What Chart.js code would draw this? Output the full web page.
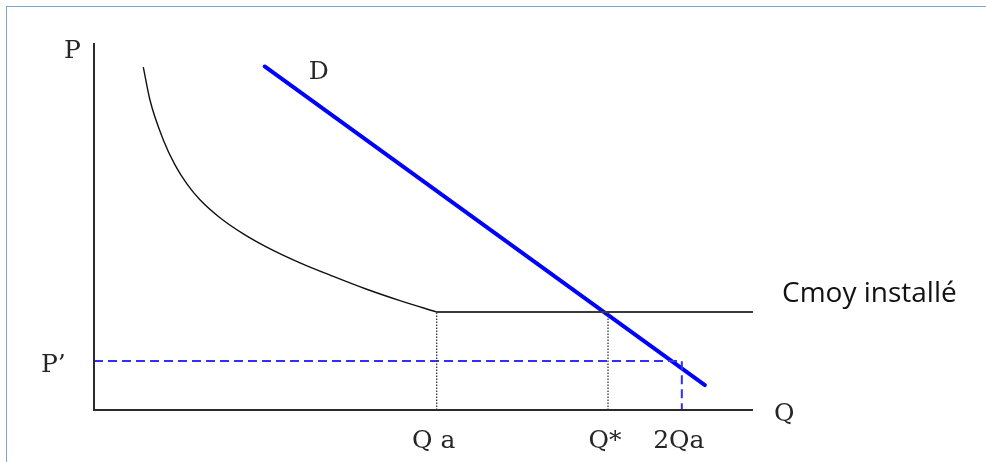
<!DOCTYPE html>
<html><head><meta charset="utf-8">
<script src="https://cdn.jsdelivr.net/npm/chart.js@4"></script>
<style>
html,body{margin:0;padding:0;background:#fff;}
#wrap{position:relative;width:986px;height:462px;overflow:hidden;background:#fff;}
#frame{position:absolute;left:6px;top:6px;width:1000px;height:480px;border:1.5px solid #7aa3d6;box-sizing:border-box;}
canvas{position:absolute;left:0;top:0;}
</style></head><body>
<div id="wrap"><div id="frame"></div><canvas id="c" width="986" height="462"></canvas></div>
<script>
// Quantity ticks on the horizontal axis
const quantityTicks = [52, 78, 89.2];
const quantityLabels = ['Q a', 'Q*', '2Qa'];
// Average cost curve (decreasing part up to Qa)
const costQ = [7.48, 8.50, 10.52, 12.29, 14.07, 16.08, 19.12, 22.66, 26.21, 31.26, 36.31, 41.38, 46.43, 52.0];
const costP = [93.4, 84.4, 73.6, 66.8, 61.7, 57.3, 52.4, 48.0, 44.4, 40.1, 36.4, 32.9, 29.8, 26.7];
// Flat installed average cost beyond Qa
const flatQ = [52.0, 100];
const flatP = [26.7, 26.7];
// Demand line
const demandQ = [25.9, 92.7];
const demandP = [93.6, 6.8];
// Prices
const priceCmoy = 26.7;
const priceLow = 13.35;
const axisMaxQ = 100, axisMaxP = 100;

const zip = (xs, ys) => xs.map((x, i) => ({x, y: ys[i]}));

const base = {pointRadius: 0, pointHoverRadius: 0, fill: false, clip: false, tension: 0};

const labelsPlugin = {
  id: 'econLabels',
  afterDatasetsDraw(chart) {
    const {ctx, scales: {x, y}} = chart;
    const X = v => x.getPixelForValue(v), Y = v => y.getPixelForValue(v);
    ctx.save();
    ctx.fillStyle = '#262626';
    ctx.textBaseline = 'alphabetic';
    ctx.font = '25px "DejaVu Serif"';
    ctx.textAlign = 'left';
    ctx.fillText('P', X(0) - 30, Y(axisMaxP) + 15);
    ctx.fillText('P\u2019', X(0) - 53, Y(priceLow) + 11);
    ctx.fillText('Q', X(axisMaxQ) + 21, Y(0) + 11);
    ctx.fillText('D', X(demandQ[0]) + 44, Y(demandP[0]) + 13);
    ctx.textAlign = 'center';
    quantityTicks.forEach((q, i) => ctx.fillText(quantityLabels[i], X(q) - 3, Y(0) + 38));
    ctx.textAlign = 'left';
    ctx.fillStyle = '#111';
    ctx.font = '28px "Open Sans"';
    ctx.fillText('Cmoy installé', X(axisMaxQ) + 29, Y(priceCmoy) - 10);
    ctx.restore();
  }
};

new Chart(document.getElementById('c'), {
  type: 'line',
  data: {
    datasets: [
      {...base, label: 'axes', data: [{x: 0, y: axisMaxP}, {x: 0, y: 0}, {x: axisMaxQ, y: 0}], borderColor: '#2a2a2a', borderWidth: 2},
      {...base, label: 'Cmoy', data: zip(costQ, costP), borderColor: '#111', borderWidth: 1.4, cubicInterpolationMode: 'monotone'},
      {...base, label: 'Cmoy installé', data: zip(flatQ, flatP), borderColor: '#3a3a3a', borderWidth: 2},
      {...base, label: 'Qa', data: [{x: quantityTicks[0], y: 0}, {x: quantityTicks[0], y: priceCmoy}], borderColor: '#333', borderWidth: 1.3, borderDash: [1.5, 1.5]},
      {...base, label: 'Q*', data: [{x: quantityTicks[1], y: 0}, {x: quantityTicks[1], y: priceCmoy}], borderColor: '#333', borderWidth: 1.3, borderDash: [1.5, 1.5]},
      {...base, label: 'P\u2019', data: [{x: 0, y: priceLow}, {x: quantityTicks[2], y: priceLow}, {x: quantityTicks[2], y: 0}], borderColor: '#2f2fff', borderWidth: 2, borderDash: [9, 5]},
      {...base, label: 'D', data: zip(demandQ, demandP), borderColor: '#0000ff', borderWidth: 4, borderCapStyle: 'round'}
    ]
  },
  options: {
    responsive: false,
    animation: false,
    events: [],
    layout: {padding: {left: 94, right: 233, top: 43, bottom: 52}},
    plugins: {legend: {display: false}, tooltip: {enabled: false}},
    scales: {
      x: {type: 'linear', min: 0, max: axisMaxQ, display: false},
      y: {type: 'linear', min: 0, max: axisMaxP, display: false}
    }
  },
  plugins: [labelsPlugin]
});
</script>
</body></html>
